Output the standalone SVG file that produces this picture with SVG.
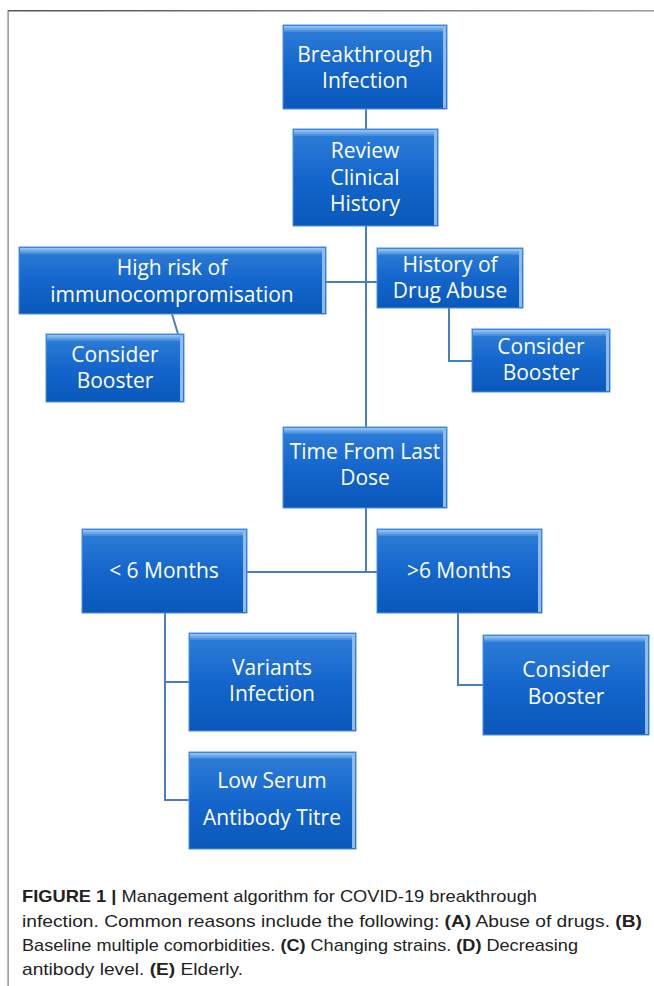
<svg xmlns="http://www.w3.org/2000/svg" width="654" height="986" viewBox="0 0 654 986">
<defs>
<linearGradient id="g" x1="0" y1="0" x2="0" y2="1">
<stop offset="0" stop-color="#2f7fd8"/>
<stop offset="0.5" stop-color="#1466cc"/>
<stop offset="1" stop-color="#0a58bb"/>
</linearGradient>
<linearGradient id="gt" x1="0" y1="0" x2="0" y2="1">
<stop offset="0" stop-color="#9cc8f4"/>
<stop offset="1" stop-color="#3a86da"/>
</linearGradient>
<linearGradient id="fr" x1="0" y1="0" x2="1" y2="0">
<stop offset="0" stop-color="#555"/>
<stop offset="1" stop-color="#999"/>
</linearGradient>
</defs>
<style>
.box{fill:url(#g);stroke:#4f92dd;stroke-width:1}
.top{fill:url(#gt)}
.rs{fill:#8ebcef}
.t{font-family:"Open Sans","Liberation Sans",sans-serif;font-size:21px;fill:#fff;text-anchor:middle}
.c{fill:none;stroke:#4a7fbf;stroke-width:2}
.cap{font-family:"Liberation Sans",Arial,sans-serif;font-size:17px;fill:#222}
.b{font-weight:bold}
</style>
<rect width="654" height="986" fill="#fff"/>
<g id="frame">
<rect x="8" y="10" width="646" height="1.5" fill="url(#fr)"/>
<rect x="7.5" y="10" width="1.2" height="976" fill="#777"/>
</g>
<g id="connectors">
<line class="c" x1="366" y1="109" x2="366" y2="129"/>
<line class="c" x1="366" y1="226" x2="366" y2="427"/>
<line class="c" x1="326" y1="282" x2="377" y2="282"/>
<line class="c" x1="172" y1="314" x2="178" y2="334"/>
<polyline class="c" points="449,308 449,361 472,361"/>
<line class="c" x1="366" y1="508" x2="366" y2="572"/>
<line class="c" x1="247" y1="572" x2="377" y2="572"/>
<polyline class="c" points="165,613 165,800 189,800"/>
<line class="c" x1="165" y1="682" x2="189" y2="682"/>
<polyline class="c" points="458,613 458,685 483,685"/>
</g>
<g id="n1">
<rect class="box" x="283" y="25" width="164" height="84"/>
<rect class="top" x="284" y="26" width="162" height="6"/>
<rect class="rs" x="443" y="26" width="3" height="82"/>
<text class="t" x="365" y="62">Breakthrough</text>
<text class="t" x="365" y="88">Infection</text>
</g>
<g id="n2">
<rect class="box" x="293" y="129" width="145" height="97"/>
<rect class="top" x="294" y="130" width="143" height="6"/>
<rect class="rs" x="434" y="130" width="3" height="95"/>
<text class="t" x="365" y="158">Review</text>
<text class="t" x="365" y="185">Clinical</text>
<text class="t" x="365" y="211">History</text>
</g>
<g id="n3">
<rect class="box" x="19" y="247" width="307" height="67"/>
<rect class="top" x="20" y="248" width="305" height="6"/>
<rect class="rs" x="322" y="248" width="3" height="65"/>
<text class="t" x="172" y="275">High risk of</text>
<text class="t" x="172" y="302">immunocompromisation</text>
</g>
<g id="n4">
<rect class="box" x="46" y="334" width="138" height="68"/>
<rect class="top" x="47" y="335" width="136" height="6"/>
<rect class="rs" x="180" y="335" width="3" height="66"/>
<text class="t" x="115" y="362">Consider</text>
<text class="t" x="115" y="388">Booster</text>
</g>
<g id="n5">
<rect class="box" x="377" y="248" width="146" height="60"/>
<rect class="top" x="378" y="249" width="144" height="6"/>
<rect class="rs" x="519" y="249" width="3" height="58"/>
<text class="t" x="450" y="272">History of</text>
<text class="t" x="450" y="298">Drug Abuse</text>
</g>
<g id="n6">
<rect class="box" x="472" y="329" width="138" height="63"/>
<rect class="top" x="473" y="330" width="136" height="6"/>
<rect class="rs" x="606" y="330" width="3" height="61"/>
<text class="t" x="541" y="354">Consider</text>
<text class="t" x="541" y="380">Booster</text>
</g>
<g id="n7">
<rect class="box" x="283" y="427" width="164" height="81"/>
<rect class="top" x="284" y="428" width="162" height="6"/>
<rect class="rs" x="443" y="428" width="3" height="79"/>
<text class="t" x="365" y="459">Time From Last</text>
<text class="t" x="365" y="485">Dose</text>
</g>
<g id="n8">
<rect class="box" x="82" y="529" width="165" height="84"/>
<rect class="top" x="83" y="530" width="163" height="6"/>
<rect class="rs" x="243" y="530" width="3" height="82"/>
<text class="t" x="164" y="578">&lt; 6 Months</text>
</g>
<g id="n9">
<rect class="box" x="377" y="529" width="165" height="84"/>
<rect class="top" x="378" y="530" width="163" height="6"/>
<rect class="rs" x="538" y="530" width="3" height="82"/>
<text class="t" x="459" y="578">&gt;6 Months</text>
</g>
<g id="n10">
<rect class="box" x="189" y="633" width="167" height="98"/>
<rect class="top" x="190" y="634" width="165" height="6"/>
<rect class="rs" x="352" y="634" width="3" height="96"/>
<text class="t" x="272" y="675">Variants</text>
<text class="t" x="272" y="701">Infection</text>
</g>
<g id="n11">
<rect class="box" x="189" y="752" width="167" height="97"/>
<rect class="top" x="190" y="753" width="165" height="6"/>
<rect class="rs" x="352" y="753" width="3" height="95"/>
<text class="t" x="272" y="788">Low Serum</text>
<text class="t" x="272" y="825">Antibody Titre</text>
</g>
<g id="n12">
<rect class="box" x="483" y="635" width="166" height="100"/>
<rect class="top" x="484" y="636" width="164" height="6"/>
<rect class="rs" x="645" y="636" width="3" height="98"/>
<text class="t" x="566" y="677">Consider</text>
<text class="t" x="566" y="704">Booster</text>
</g>
<g id="caption">
<text class="cap" x="22" y="902" textLength="515" lengthAdjust="spacingAndGlyphs"><tspan class="b">FIGURE 1 |</tspan> Management algorithm for COVID-19 breakthrough</text>
<text class="cap" x="22" y="927" textLength="620" lengthAdjust="spacingAndGlyphs">infection. Common reasons include the following: <tspan class="b">(A)</tspan> Abuse of drugs. <tspan class="b">(B)</tspan></text>
<text class="cap" x="22" y="951" textLength="556" lengthAdjust="spacingAndGlyphs">Baseline multiple comorbidities. <tspan class="b">(C)</tspan> Changing strains. <tspan class="b">(D)</tspan> Decreasing</text>
<text class="cap" x="22" y="975" textLength="221" lengthAdjust="spacingAndGlyphs">antibody level. <tspan class="b">(E)</tspan> Elderly.</text>
</g>
</svg>
